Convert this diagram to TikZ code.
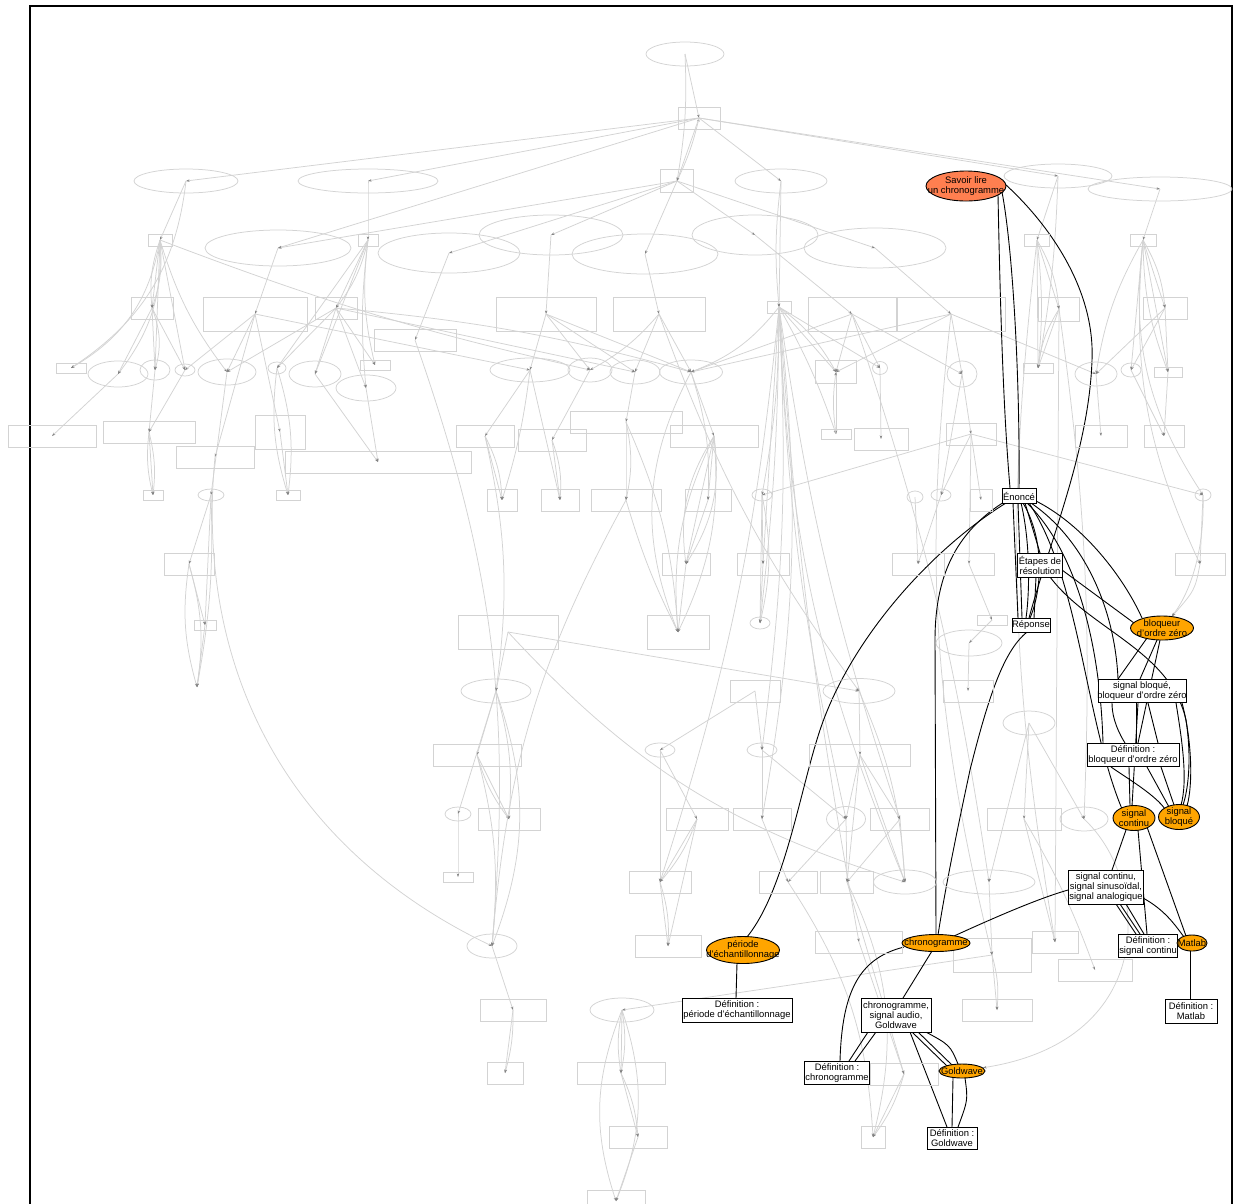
\documentclass[tikz,border=0pt]{standalone}
\usepackage{fontspec}
\setmainfont{Liberation Sans}
\usetikzlibrary{shapes.geometric,arrows.meta,calc}
\definecolor{lgray}{RGB}{211,211,211}
\definecolor{agray}{RGB}{130,130,130}
\definecolor{hcoral}{RGB}{255,127,80}
\definecolor{horange}{RGB}{255,165,0}
\pgfdeclarelayer{gl}
\pgfdeclarelayer{blk}
\pgfsetlayers{gl,blk,main}
\begin{document}
\begin{tikzpicture}[x=1pt,y=-1pt,
  gel/.style={ellipse,draw=lgray,line width=0.75pt,inner sep=0pt},
  grc/.style={rectangle,draw=lgray,line width=0.9pt,inner sep=0pt},
  ge/.style={draw=lgray,line width=0.75pt,-{Stealth[length=3.5pt,width=2.4pt,color=agray]}},
  be/.style={draw=black,line width=0.9pt},
  T/.style={label={[align=center,inner sep=0pt,font=\fontsize{9.4}{10}\selectfont]center:{#1}}},
  bbox/.style={rectangle,draw=black,line width=0.9pt,fill=white,inner sep=0pt},
  bell/.style={ellipse,draw=black,line width=0.9pt,fill=horange,inner sep=0pt}]
\useasboundingbox (0,0) rectangle (1233,1203);
\begin{pgfonlayer}{gl}
\fill[white] (0,0) rectangle (1233,1203);
\end{pgfonlayer}
\draw[line width=2pt] (30,6) rectangle (1232,1240);

% gray ellipses
\foreach \n/\x/\y/\w/\h in {e1/685/54/78/24, e2/186/181/104/24, e3/368/181/140/24, e4/781/181/92/24, e5/1058/176/108/24, e6/1160/189/144/24, e7/278/248/146/36, e8/449/253/142/40, e9/551/235/144/40, e10/645/254/146/40, e11/755/235/126/40, e12/875/248/142/40, e13/118/374/60/26, e14/155/370/30/20, e15/185/370/20/12, e16/227/372/58/26, e17/277/368/18/12, e18/315/374/52/26, e19/366/388/60/26, e20/530/370/80/24, e21/590/370/44/24, e22/635/372/50/24, e23/691/372/63/24, e24/880/368/15/13, e25/962/374/30/26, e26/1096/374/42/24, e27/1131/370/20/14, e28/211/495/26/12, e29/762/495/20/12, e30/915/497/16/12, e31/941/495/20/12, e32/1203/495/16/12, e33/760/623/20/12, e34/969/643/66/26, e35/496/691/70/24, e36/859/691/72/25, e37/1029/723/52/24, e38/660/750/30/14, e39/762/750/30/14, e40/458/814/26/14, e41/846/819/39/25, e42/1084/819/48/24, e43/905/882/63/24, e44/989/882/92/24, e45/492/946/50/24, e46/622/1010/64/24}
  \node[gel,minimum width=\w,minimum height=\h] (\n) at (\x,\y) {};
\coordinate (e47) at (197,687);

% gray boxes
\foreach \n/\x/\y/\w/\h in {r1/699/118/42/22, r2/677/181/33/23, r3/160/240/24/12, r4/368/240/20/12, r5/1037/240/25/12, r6/1143/240/26/12, r7/152/308/42/22, r8/255/314/104/34, r9/336/308/42/22, r10/415/340/82/22, r11/546/314/100/34, r12/659/314/92/34, r13/779/307/24/12, r14/852/314/88/34, r15/951/314/108/34, r16/1059/309/41/24, r17/1165/308/44/22, r18/71/368/30/10, r19/375/365/30/10, r20/1038/368/30/10, r21/1168/372/28/10, r22/836/372/41/23, r23/52/436/88/22, r24/149/432/92/22, r25/215/457/78/22, r26/280/432/50/34, r27/378/462/186/22, r28/485/436/58/22, r29/552/440/68/22, r30/626/422/112/22, r31/714/436/88/22, r32/836/434/30/10, r33/881/439/54/22, r34/971/434/50/22, r35/1101/436/52/22, r36/1164/436/40/22, r37/153/495/20/10, r38/288/495/24/10, r39/502/500/30/22, r40/560/500/38/22, r41/626/500/70/22, r42/708/500/46/22, r43/981/500/22/22, r44/189/564/50/22, r45/686/564/48/22, r46/763/564/52/22, r47/918/564/52/22, r48/969/564/50/22, r49/1200/564/50/22, r50/205/625/22/10, r51/508/632/100/34, r52/678/632/62/34, r53/992/620/30/10, r54/755/691/50/22, r55/968/691/50/22, r56/477/755/88/22, r57/860/755/101/22, r58/509/819/62/22, r59/697/819/62/22, r60/762/819/58/22, r61/900/819/59/22, r62/1024/819/74/22, r63/458/877/30/10, r64/660/882/62/22, r65/788/882/58/22, r66/847/882/53/22, r67/668/946/66/22, r68/859/942/87/22, r69/992/955/78/34, r70/1055/942/46/22, r71/1095/970/74/22, r72/513/1010/66/22, r73/997/1010/70/22, r74/505/1073/36/22, r75/621/1073/88/22, r76/904/1074/68/22, r77/873/1137/24/22, r78/638/1137/58/22, r79/616/1201/58/22}
  \node[grc,minimum width=\w,minimum height=\h] (\n) at (\x,\y) {};

% highlighted nodes
\node[ellipse,draw=black,line width=0.9pt,fill=hcoral,inner sep=0pt,minimum width=80,minimum height=30,T={Savoir lire\\un chronogramme}] (sav) at (966,186) {};
\node[bbox,minimum width=34,minimum height=15,T={Énoncé}] (en) at (1019,496) {};
\node[bbox,minimum width=45,minimum height=24,T={Étapes de\\résolution}] (et) at (1040,565) {};
\node[bbox,minimum width=38,minimum height=14,T={Réponse}] (rep) at (1031,625) {};
\node[bell,minimum width=63,minimum height=24,T={bloqueur\\d'ordre zéro}] (bl) at (1162,628) {};
\node[bbox,minimum width=88,minimum height=23,T={signal bloqué,\\bloqueur d'ordre zéro}] (sbb) at (1142,691) {};
\node[bbox,minimum width=92,minimum height=23,T={Définition :\\bloqueur d'ordre zéro}] (dbl) at (1133,755) {};
\node[bell,minimum width=42,minimum height=25,T={signal\\continu}] (sc) at (1134,818) {};
\node[bell,minimum width=41,minimum height=25,T={signal\\bloqué}] (sbl) at (1179,817) {};
\node[bbox,minimum width=75,minimum height=34,T={signal continu,\\signal sinusoïdal,\\signal analogique}] (scs) at (1106,887) {};
\node[bbox,minimum width=59,minimum height=23,T={Définition :\\signal continu}] (dsc) at (1148,946) {};
\node[bell,minimum width=30,minimum height=16,T={Matlab}] (mat) at (1192,943) {};
\node[bbox,minimum width=52,minimum height=24,T={Définition :\\Matlab}] (dmat) at (1191,1011) {};
\node[bell,minimum width=73,minimum height=27,T={période\\d'échantillonnage}] (per) at (743,950) {};
\node[bbox,minimum width=110,minimum height=24,T={Définition :\\période d'échantillonnage}] (dper) at (737,1010) {};
\node[bell,minimum width=68,minimum height=17,T={chronogramme}] (chr) at (936,943) {};
\node[bbox,minimum width=70,minimum height=34,T={chronogramme,\\signal audio,\\Goldwave}] (cag) at (896,1015) {};
\node[bbox,minimum width=65,minimum height=23,T={Définition :\\chronogramme}] (dchr) at (837,1073) {};
\node[bell,minimum width=46,minimum height=14,T={Goldwave}] (gw) at (962,1071) {};
\node[bbox,minimum width=50,minimum height=22,T={Définition :\\Goldwave}] (dgw) at (952,1138) {};

\begin{pgfonlayer}{gl}
\foreach \a/\b/\c in {e1/r1/0, e1/r2/6, r2/r1/-6, r1/r2/0,
 r1/e2/0, r1/e3/0, r1/e4/0, r1/e5/0, r1/e6/0, r1/e7/0,
 r2/e7/0, r2/e8/0, r2/e9/0, r2/e10/0, r2/e11/0, r2/e12/0,
 e2/r3/0, e3/r4/0, e2/r18/25, e4/r13/0, e4/r13/-6, e5/r5/0, e5/r20/4, e6/r6/0,
 e7/r8/0, e8/r10/0, e9/r11/0, e10/r12/0, e11/r14/0, e12/r15/0,
 r3/r7/0, r3/r7/12, r3/r7/-12, r3/e13/20, r3/r18/25, r3/e14/0, r3/e15/0, r3/e16/-10, r3/e21/-4,
 r7/e13/0, r7/e14/0, r7/e15/0, r7/e14/18,
 r4/r9/0, r4/r9/12, r4/e18/0, r4/r19/-10, r4/e19/-6, r4/e17/0,
 r9/e18/0, r9/e17/0, r9/r19/0, r9/e19/0, r9/e16/0, r9/e22/0, r9/e23/5,
 r8/e16/0, r8/e15/0, r8/r25/0, r8/r26/0, r8/e20/0,
 r10/e45/12, r25/e45/-35,
 e13/r23/0, e14/r24/0, e15/r24/0, e16/e28/0,
 r24/r37/0, r24/r37/10, r24/r37/-10,
 e28/r44/0, e28/r50/0, e28/e47/6, r44/r50/0, r50/e47/0, r44/e47/12, r44/e47/-12,
 e17/r38/12, r26/r38/0, e17/r38/-12, e19/r27/0, e18/r27/0,
 r11/e20/0, r11/e21/0, r11/e22/0, r11/e23/0, r12/e23/0, r12/e22/0, r12/e21/10,
 r13/e23/15, r13/r22/0, r13/r22/12, r13/e24/0, r13/r32/5, r13/e29/5, r13/e33/3, r13/r46/0, r13/e39/5, r13/r60/8, r13/e41/-5, r13/e43/-10, r13/r61/-5, r13/r68/-3,
 r14/r22/0, r14/e24/0, r14/e23/0, r14/e25/0,
 r15/e25/0, r15/e26/0, r15/r22/0, r15/e23/0,
 r22/r32/0, r32/r22/8,
 e20/r28/0, e20/r39/5, e20/r40/0, e21/r29/0, e22/r30/0, e23/r31/0, e23/r42/10,
 r28/r39/0, r28/r39/12, r29/r40/0, r29/r40/12, r30/r41/0, r30/r41/12,
 r31/r42/0, r31/r45/20, r31/r45/-20, r31/r52/15, r31/r52/-15, r42/r45/0, r45/r52/0, r31/r45/0, r41/r52/-5, r30/r52/10,
 e29/e33/0, e29/e33/12, e29/r46/0, r46/e33/0,
 e24/r33/0, e25/r34/0, e25/e31/0, r34/e31/0, r34/e29/0, r34/r43/0, r34/e32/0, e31/r47/0, e30/r47/0, r34/r48/0, r48/r53/0, r53/e34/0, e34/r55/0,
 e26/r35/0, e27/r36/0, r21/r36/0,
 r5/r16/0, r5/r16/12, r5/r20/0, r5/r20/6, r16/r20/0, r16/r20/-12,
 r6/r17/0, r6/r17/12, r6/r21/0, r6/e26/-10, r6/e27/0, r6/r21/-10,
 r17/e27/0, r17/r21/0, r17/e26/0, r6/e32/-20, r6/r49/-15, e32/r49/0,
 r51/e35/0, r51/e36/0, e35/r56/0, e35/r58/10, e35/e40/0, e35/e45/20, r56/r58/0, r56/r58/-10, e40/r63/0, r56/e45/10,
 r54/e38/0, r54/e39/0, e38/r64/0, e38/r59/0, e39/r60/0, e39/e41/0,
 e36/r57/0, e36/e43/10, r57/e41/0, r57/r61/0, r57/r66/0, r57/e43/0,
 r59/r64/0, r59/r64/10, r59/r67/0, r64/r67/0, r64/r67/10, r60/r65/0, e41/r65/0, e41/r66/0, r61/r66/0, r61/e43/0,
 e37/r62/0, e37/e42/0, e37/e44/0, e44/r69/0, r69/r73/0, r69/r73/10, r62/r70/0, r62/r71/5,
 e45/r72/0, r72/r74/0, r72/r74/8,
 e46/r75/0, e46/r75/10, e46/r75/-10, r75/r78/0, r75/r78/10, e46/r79/20, e46/r79/-20, r78/r79/0,
 r68/r76/0, r66/r77/20, r65/r77/15, r76/r77/0, r76/r77/10, r66/r76/0, r69/e46/0,
 r15/r69/-10, r14/e44/5, r16/e42/5, r16/r70/0, r5/r70/-8,
 r51/e43/-15, r28/e35/10, e23/r52/-25, r41/e45/-12, r12/e36/-8, r13/r64/6}
  \draw[ge] (\a.center) to[bend left=\c] (\b.center);
\draw[ge] (e32.center) .. controls (1205,560) and (1185,600) .. (bl);
\draw[ge] (r49.center) .. controls (1195,590) .. (bl);
\draw[ge] (e42.center) .. controls (1150,880) and (1160,1040) .. (gw);
\end{pgfonlayer}

\begin{pgfonlayer}{blk}
% Savoir lire un chronogramme
\draw[be] ($(sav)+(32,9)$) .. controls (1001,350) and (1005,430) .. ($(en)+(-9,-8)$);
\draw[be] ($(sav)+(36,6)$) .. controls (1013,250) and (1020,380) .. ($(en)+(0,-8)$);
\draw[be] ($(sav)+(39,-2)$) .. controls (1050,225) and (1095,290) .. (1092,360) .. controls (1089,450) and (1050,540) .. ($(rep)+(-2,-7)$);
% Enonce
\draw[be] ($(en)+(-6,7)$) -- ($(rep)+(-13,-7)$);
\draw[be] ($(en)+(-1,7)$) -- ($(rep)+(-9,-7)$);
\draw[be] ($(en)+(2,7)$) .. controls (1030,540) and (1030,590) .. ($(rep)+(-5,-7)$);
\draw[be] ($(en)+(4,7)$) .. controls (1045,540) and (1042,590) .. ($(rep)+(-1,-7)$);
\draw[be] ($(en)+(6,7)$) -- ($(et)+(0,-12)$);
\draw[be] ($(et)+(-4,12)$) -- ($(rep)+(3,-7)$);
\draw[be] ($(en)+(15,4)$) .. controls (1085,525) and (1125,580) .. ($(bl)+(-20,-10)$);
\draw[be] ($(en)+(12,7)$) .. controls (1085,540) and (1115,610) .. ($(sbb)+(-24,-12)$);
\draw[be] ($(en)+(8,7)$) .. controls (1075,550) and (1100,640) .. ($(dbl)+(-30,-12)$);
\draw[be] ($(en)+(10,7)$) .. controls (1080,580) and (1085,720) .. ($(sc)+(-12,-9)$);
\draw[be] ($(en)+(-13,7)$) .. controls (930,550) and (850,640) .. (820,730) .. controls (800,790) and (785,890) .. ($(per)+(4,-13)$);
\draw[be] ($(en)+(-15,6)$) .. controls (960,530) and (935,570) .. (935,640) -- ($(chr)+(0,-8)$);
% Etapes
\draw[be] ($(et)+(22,5)$) -- ($(bl)+(-28,-5)$);
\draw[be] ($(et)+(10,12)$) .. controls (1090,630) and (1170,650) .. (1186,720) .. controls (1192,760) and (1188,790) .. ($(sbl)+(4,-12)$);
% Reponse
\draw[be] ($(rep)+(-4,7)$) .. controls (1005,650) and (990,690) .. (970,770) .. controls (955,840) and (945,890) .. ($(chr)+(2,-8)$);
% bloqueur
\draw[be] ($(bl)+(-15,10)$) -- ($(sbb)+(-24,-12)$);
\draw[be] ($(bl)+(-5,12)$) -- ($(sbb)+(-2,-12)$);
\draw[be] ($(bl)+(-2,12)$) -- ($(dbl)+(5,-12)$);
% signal bloque, bloqueur
\draw[be] ($(sbb)+(-30,12)$) .. controls (1112,720) and (1120,735) .. ($(dbl)+(-8,-12)$);
\draw[be] ($(sbb)+(-6,12)$) -- ($(dbl)+(3,-12)$);
\draw[be] ($(sbb)+(6,12)$) -- ($(dbl)+(25,-12)$);
\draw[be] ($(sbb)+(-4,12)$) -- ($(sc)+(-2,-12)$);
\draw[be] ($(sbb)+(34,12)$) .. controls (1182,740) and (1188,780) .. ($(sbl)+(2,-12)$);
\draw[be] ($(sbb)+(40,12)$) .. controls (1192,740) and (1193,785) .. ($(sbl)+(8,-11)$);
% definition bloqueur
\draw[be] ($(dbl)+(-4,12)$) -- ($(sc)+(-4,-12)$);
\draw[be] ($(dbl)+(14,12)$) -- ($(sbl)+(-10,-10)$);
\draw[be] ($(dbl)+(-22,12)$) .. controls (1130,780) and (1155,795) .. ($(sbl)+(-14,-8)$);
\draw[be] ($(dbl)+(28,12)$) -- ($(sbl)+(-5,-12)$);
% signal continu
\draw[be] ($(sc)+(-8,12)$) -- ($(scs)+(6,-17)$);
\draw[be] ($(sc)+(4,12)$) -- ($(dsc)+(-1,-12)$);
\draw[be] ($(sc)+(13,9)$) -- ($(mat)+(-6,-7)$);
\draw[be] ($(scs)+(10,17)$) -- ($(dsc)+(-12,-12)$);
\draw[be] ($(scs)+(14,17)$) -- ($(dsc)+(-8,-12)$);
\draw[be] ($(scs)+(20,17)$) -- ($(dsc)+(-4,-12)$);
\draw[be] ($(scs)+(37,11)$) .. controls (1165,910) and (1175,925) .. ($(mat)+(-8,-6)$);
\draw[be] ($(mat)+(-2,8)$) -- ($(dmat)+(-1,-12)$);
% chronogramme
\draw[be] ($(chr)+(18,-7)$) .. controls (1000,915) and (1040,898) .. ($(scs)+(-38,3)$);
\draw[be] ($(per)+(-6,13)$) -- ($(dper)+(-1,-12)$);
\draw[be] ($(chr)+(-4,8)$) -- ($(cag)+(7,-17)$);
\draw[be] ($(chr)+(-32,4)$) .. controls (860,958) and (842,990) .. ($(dchr)+(3,-12)$);
\draw[be] ($(cag)+(-28,17)$) -- ($(dchr)+(12,-12)$);
\draw[be] ($(cag)+(-20,17)$) -- ($(dchr)+(18,-12)$);
\draw[be] ($(cag)+(16,17)$) -- ($(gw)+(-15,-5)$);
\draw[be] ($(cag)+(22,17)$) -- ($(gw)+(-10,-6)$);
\draw[be] ($(cag)+(28,16)$) .. controls (950,1045) .. ($(gw)+(-4,-7)$);
\draw[be] ($(cag)+(14,17)$) -- ($(dgw)+(-5,-11)$);
\draw[be] ($(gw)+(-9,7)$) -- ($(dgw)+(0,-11)$);
\draw[be] ($(gw)+(3,7)$) .. controls (968,1100) .. ($(dgw)+(6,-11)$);
\end{pgfonlayer}
\end{tikzpicture}
\end{document}
